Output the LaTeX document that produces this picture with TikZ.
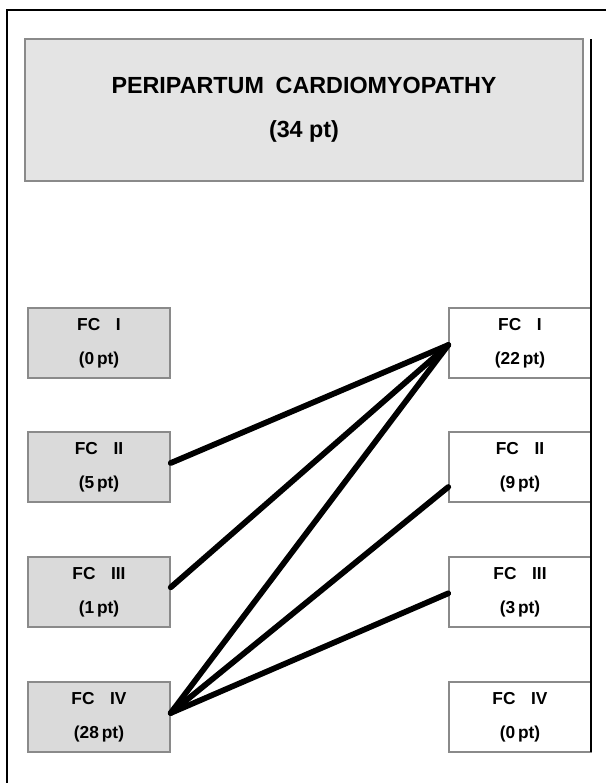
\documentclass[tikz,border=0pt]{standalone}
\usepackage{fontspec}
\setmainfont{Liberation Sans}
\usepackage{xcolor}
\usepackage{tikz}
\usetikzlibrary{positioning, calc}

\definecolor{boxgray}{HTML}{DADADA}
\definecolor{titlegray}{HTML}{E4E4E4}
\definecolor{edgegray}{HTML}{8A8A8A}

\begin{document}
\begin{tikzpicture}[x=0.75pt, y=-0.75pt]
		
		\tikzstyle{fcl}=[rectangle, draw=edgegray, line width=1.1pt, fill=boxgray, minimum width=106.5pt, minimum height=52.5pt, inner sep=0pt, align=center, font=\fontsize{13}{25.5}\selectfont\bfseries]
		\tikzstyle{fcr}=[fcl, fill=white]
		\tikzstyle{titlebox}=[fcl, fill=titlegray, minimum width=418.5pt, minimum height=106.5pt, font=\fontsize{17.5}{33}\selectfont\bfseries]
		\tikzstyle{link}=[line width=4.3pt, line cap=round, black]
		
		\useasboundingbox (0,0) rectangle (606,783);
		
		\node (ppcm) at (304,110) [titlebox] {PERIPARTUM\hspace{0.5em}CARDIOMYOPATHY\\(34 pt)};
		
		\node (l1) at (99,343) [fcl] {FC\hspace{0.9em}I\\(0\,pt)};
		\node (l2) at (99,467) [fcl] {FC\hspace{0.9em}II\\(5\,pt)};
		\node (l3) at (99,592) [fcl] {FC\hspace{0.9em}III\\(1\,pt)};
		\node (l4) at (99,717) [fcl] {FC\hspace{0.9em}IV\\(28\,pt)};
		
		\node (r1) at (520,343) [fcr] {FC\hspace{0.9em}I\\(22\,pt)};
		\node (r2) at (520,467) [fcr] {FC\hspace{0.9em}II\\(9\,pt)};
		\node (r3) at (520,592) [fcr] {FC\hspace{0.9em}III\\(3\,pt)};
		\node (r4) at (520,717) [fcr] {FC\hspace{0.9em}IV\\(0\,pt)};
		
		\draw [line width=1.5pt] (606,10) -- (7,10) -- (7,783);
		\draw [line width=1.5pt] (591,39) -- (591,752);
		
		\draw [link] ([yshift=3pt]l2.east) -- ([yshift=-1.5pt]r1.west);
		\draw [link] ([yshift=3.5pt]l3.east) -- ([yshift=-1.5pt]r1.west);
		\draw [link] ([yshift=3pt]l4.east) -- ([yshift=-1.5pt]r1.west);
		\draw [link] ([yshift=3pt]l4.east) -- ([yshift=-15pt]r2.west);
		\draw [link] ([yshift=3pt]l4.east) -- ([yshift=-1pt]r3.west);
		
\end{tikzpicture}
\end{document}
